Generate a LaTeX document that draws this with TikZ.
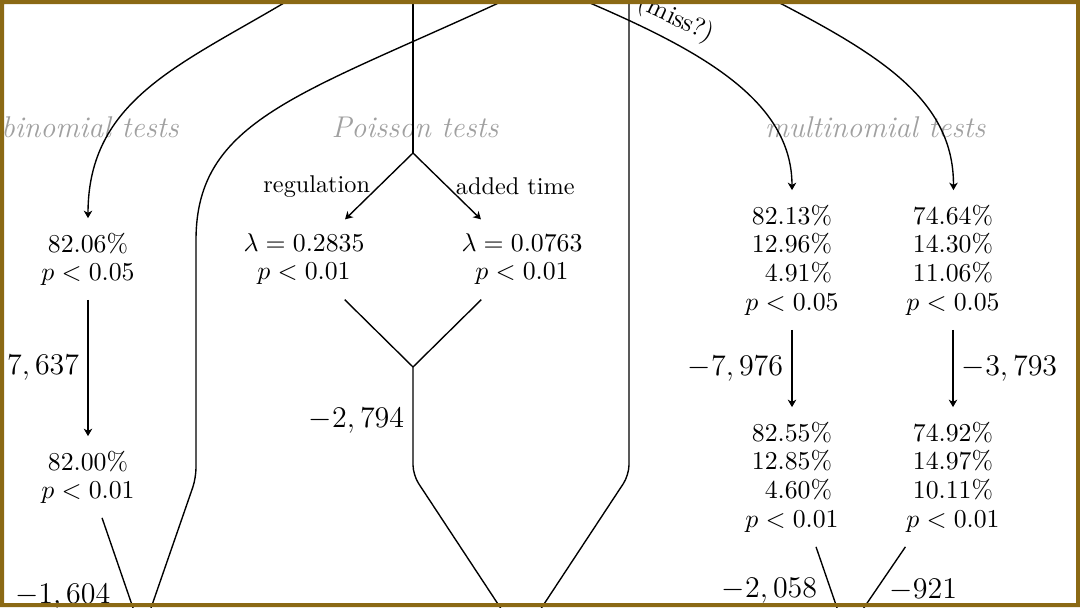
\RequirePackage{fix-cm}
\documentclass[tikz,border=0pt]{standalone}
\usepackage{fontspec}
\usetikzlibrary{arrows.meta}
\definecolor{framebrown}{RGB}{139,105,20}
\definecolor{lblgray}{RGB}{160,160,160}
\begin{document}
\begin{tikzpicture}[x={(0.4pt,0)}, y={(0,-0.4pt)}, line width=0.55pt,
  >={Stealth[length=3pt, width=3.4pt, inset=0.9pt]},
  val/.style={align=center, inner sep=5.6pt, font=\fontsize{10.3}{11.2}\selectfont},
  mval/.style={align=center, inner sep=5.6pt, font=\fontsize{10.3}{11.47}\selectfont},
  delta/.style={font=\fontsize{12}{14}\selectfont, inner sep=3.3pt},
  edgelbl/.style={font=\fontsize{9.7}{11}\selectfont},
  testlbl/.style={font=\fontsize{12}{14}\selectfont\itshape, text=lblgray},
]
\useasboundingbox (0,0) rectangle (1080,607);

% gray group labels
\node[testlbl] (tb) at (90,127) {binomial tests};
\node[testlbl] (tp) at (415,127) {Poisson tests};
\node[testlbl] (tm) at (875,127) {multinomial tests};

% value nodes
\node[val] (bin1) at (88,259) {82.06\%\\$p<0.05$};
\node[val] (bin2) at (88,477) {82.00\%\\$p<0.01$};
\node[val] (lam1) at (304,259.5) {$\lambda=0.2835$\\$p<0.01$};
\node[val] (lam2) at (522,259.5) {$\lambda=0.0763$\\$p<0.01$};
\node[mval] (m1) at (792,260) {82.13\%\\12.96\%\\\phantom{0}4.91\%\\$p<0.05$};
\node[mval] (m2) at (953,260) {74.64\%\\14.30\%\\11.06\%\\$p<0.05$};
\node[mval] (m3) at (792,477) {82.55\%\\12.85\%\\\phantom{0}4.60\%\\$p<0.01$};
\node[mval] (m4) at (953,477) {74.92\%\\14.97\%\\10.11\%\\$p<0.01$};

% coordinates
\coordinate (t1) at (289,0);
\coordinate (t2) at (505,0);
\coordinate (t3) at (413,0);
\coordinate (t4) at (629,0);
\coordinate (t5) at (583,0);
\coordinate (t6) at (774,0);
\coordinate (B) at (413,153);
\coordinate (P2) at (413,367);
\coordinate (c2) at (196,250);
\coordinate (k2) at (196,478);
\coordinate (k3) at (413,475);
\coordinate (k4) at (629,475);
\coordinate (M1) at (142,634);
\coordinate (M2) at (521,639);
\coordinate (M3) at (846,634);

% binomial branch
\draw[->] (t1) .. controls (180,65) and (88,100) .. (bin1);
\draw[->] (bin1) -- node[delta, left] {$-7,637$} (bin2);
\draw (bin2) -- node[delta, pos=0.68, anchor=east, xshift=-4pt] {$-1,604$} (M1);
\draw[rounded corners=4pt] (t2) .. controls (300,95) and (196,120) .. (c2) -- (k2) -- (M1);

% Poisson branch
\draw (t3) -- (B);
\draw[->] (B) -- node[edgelbl, left] {regulation} (lam1);
\draw[->] (B) -- node[edgelbl, right] {added time} (lam2);
\draw (lam1) -- (P2);
\draw (lam2) -- (P2);
\draw[rounded corners=4pt] (P2) -- node[delta, left] {$-2,794$} (k3) -- (M2);
\draw[rounded corners=4pt] (t4) -- (k4) -- (M2);

% multinomial branch
\draw[->] (t5) .. controls (700,50) and (792,100) .. (m1);
\node[font=\fontsize{10.3}{12}\selectfont, rotate=-25] (miss) at (676,19) {(miss?)};
\draw[->] (t6) .. controls (880,55) and (954,100) .. (m2);
\draw[->] (m1) -- node[delta, left] {$-7,976$} (m3);
\draw[->] (m2) -- node[delta, right] {$-3,793$} (m4);
\draw (m3) -- node[delta, left, xshift=-2pt] {$-2,058$} (M3);
\draw (m4) -- node[delta, right, xshift=2pt] {$-921$} (M3);

% frame
\fill[framebrown, even odd rule] (0,0) rectangle (1080,607) (4,4) rectangle (1076,603);
\end{tikzpicture}
\end{document}
